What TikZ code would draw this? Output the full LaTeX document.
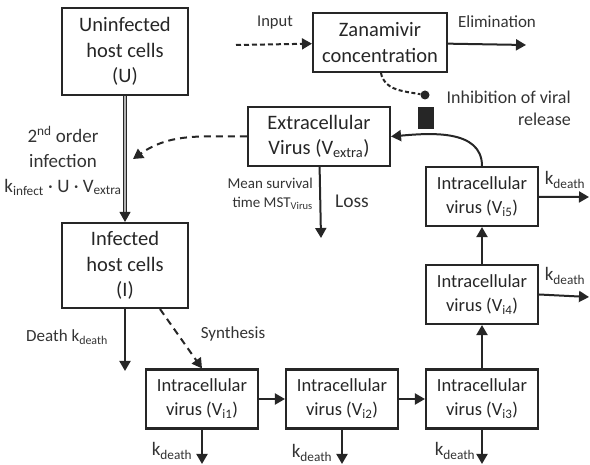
\documentclass[tikz,border=0pt]{standalone}
\usepackage{fontspec}
\setmainfont{Carlito}
\usetikzlibrary{arrows.meta}
\usetikzlibrary{positioning}

\begin{document}
\begin{tikzpicture}[x=1pt,y=-1pt]
            \tikzset{cmpt/.style={draw=black!85, line width=2.1pt, align=center, text=black!85, inner sep=0pt, font=\fontsize{20.5}{25.5}\selectfont}}
            \tikzset{vibox/.style={cmpt, minimum width=112pt, minimum height=59pt, font=\fontsize{18.5}{24}\selectfont}}
            \tikzset{flow/.style={draw=black!85, line width=2pt, -{Triangle[length=10pt,width=11pt]}}}
            \tikzset{lbl/.style={text=black!80, align=center, inner sep=0pt, font=\fontsize{17}{22}\selectfont}}
            \useasboundingbox (0,0) rectangle (590,465);
            \node[cmpt, minimum width=126pt, minimum height=87pt] (U) at (125,51.5) {Uninfected\\host cells\\(U)};
            \node[cmpt, minimum width=126pt, minimum height=85pt] (I) at (125,265.5) {Infected\\host cells\\(I)};
            \node[cmpt, minimum width=134pt, minimum height=59pt] (Z) at (380,42.5) {Zanamivir\\concentration};
            \node[cmpt, minimum width=142pt, minimum height=59pt] (Vex) at (319,136.5) {Extracellular\\Virus (V\textsubscript{extra})};
            \node[vibox] (Vi1) at (202,399) {Intracellular\\virus (V\textsubscript{i1})};
            \node[vibox] (Vi2) at (342,399) {Intracellular\\virus (V\textsubscript{i2})};
            \node[vibox] (Vi3) at (482,399) {Intracellular\\virus (V\textsubscript{i3})};
            \node[vibox] (Vi4) at (482,294.5) {Intracellular\\virus (V\textsubscript{i4})};
            \node[vibox] (Vi5) at (482,196.5) {Intracellular\\virus (V\textsubscript{i5})};
            \node[circle, fill=black!85, minimum size=9pt, inner sep=0pt] (dot) at (425,95) {};
            \node[fill=black!85, minimum width=16pt, minimum height=22pt, inner sep=0pt] (bar) at (426,118) {};
            \coordinate (in) at (236,45);
            \coordinate (elim) at (526,45);
            \coordinate (infect) at (133,159);
            \coordinate (loss) at (321,238);
            \coordinate (death) at (125,371);
            \coordinate (k5) at (589,197);
            \coordinate (k4) at (589,297);
            \coordinate (k3) at (482,464);
            \coordinate (k2) at (342,464);
            \coordinate (k1) at (202,464);
            \draw[flow, double=black!30, double distance=2.2pt, line width=1.1pt] (U) -- (I);
            \draw[flow, dashed, dash pattern=on 7pt off 5pt] (Vex.west) to[out=180,in=35] (infect);
            \draw[flow, dashed, dash pattern=on 5pt off 3pt] (in) -- (Z);
            \draw[flow] (Z) -- (elim);
            \draw[draw=black!85, line width=2pt, dash pattern=on 4pt off 2.5pt] ([xshift=1pt]Z.south) to[out=-80,in=170] (dot);
            \draw[flow] (Vi5.north) to[out=90,in=5] (Vex.east);
            \draw[flow] (Vex) -- (loss);
            \draw[flow] (I) -- (death);
            \draw[flow, dashed, dash pattern=on 7pt off 5pt] ([xshift=35pt]I.south) -- (Vi1.north);
            \draw[flow] (Vi1) -- (Vi2);
            \draw[flow] (Vi2) -- (Vi3);
            \draw[flow] (Vi3) -- (Vi4);
            \draw[flow] (Vi4) -- (Vi5);
            \draw[flow] (Vi5) -- (k5);
            \draw[flow] (Vi4.east) -- (k4);
            \draw[flow] (Vi3) -- (k3);
            \draw[flow] (Vi2) -- (k2);
            \draw[flow] (Vi1) -- (k1);
            \node[lbl, font=\fontsize{19}{25}\selectfont] at (63,161) {2\textsuperscript{nd} order\\infection\\k\textsubscript{infect} · U · V\textsubscript{extra}};
            \node[lbl, font=\fontsize{16.5}{20}\selectfont] at (275,23) {Input};
            \node[lbl] at (497,22) {Elimination};
            \node[lbl, align=right, anchor=east, font=\fontsize{18}{22}\selectfont] at (571,108) {Inhibition of viral\\release};
            \node[lbl, align=right, anchor=east, font=\fontsize{15}{19}\selectfont] at (313,194) {Mean survival\\time MST\textsubscript{Virus}};
            \node[lbl, font=\fontsize{19.5}{23}\selectfont] at (352,201) {Loss};
            \node[lbl] at (67,337) {Death k\textsubscript{death}};
            \node[lbl] at (233,334) {Synthesis};
            \node[lbl, font=\fontsize{19}{23}\selectfont] at (565,180) {k\textsubscript{death}};
            \node[lbl, font=\fontsize{19}{23}\selectfont] at (565,276) {k\textsubscript{death}};
            \node[lbl, font=\fontsize{19}{23}\selectfont] at (455,451) {k\textsubscript{death}};
            \node[lbl, font=\fontsize{19}{23}\selectfont] at (312,453) {k\textsubscript{death}};
            \node[lbl, font=\fontsize{19}{23}\selectfont] at (172,451) {k\textsubscript{death}};
        \end{tikzpicture}
\end{document}
